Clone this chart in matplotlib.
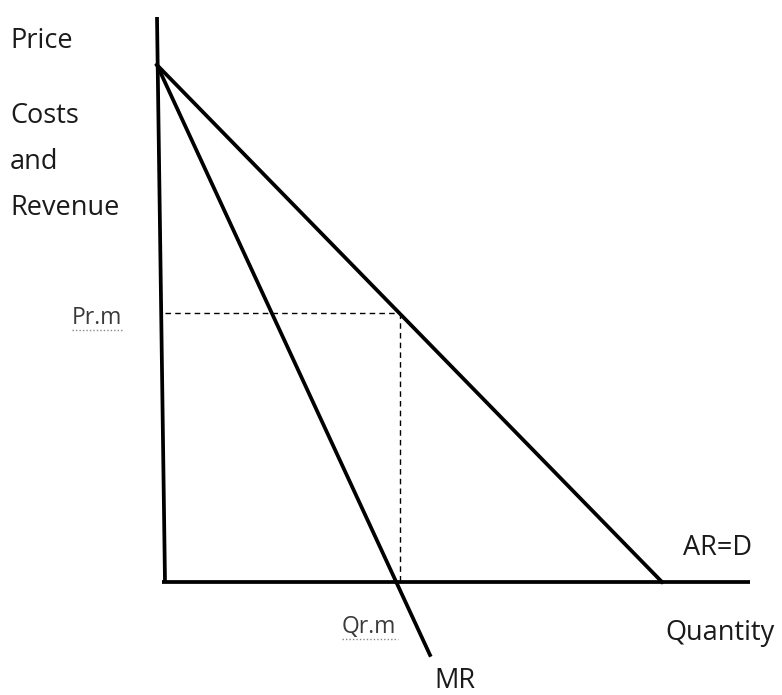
import matplotlib.pyplot as plt

# Diagram drawn in pixel-like units of the original picture (y grows downward)
y_axis_x = [157, 165]
y_axis_y = [17, 582]
x_axis_x = [162, 750]
x_axis_y = [582, 582]

# Demand (AR=D) and marginal revenue lines
ar_x = [157, 662]
ar_y = [65, 582]
mr_x = [157, 430]
mr_y = [65, 655]

# Profit-maximising point
q_rm = 400
p_rm = 313

fig = plt.figure(figsize=(7.82, 6.95), dpi=100)
ax = fig.add_axes([0, 0, 1, 1])
ax.set_xlim(0, 782)
ax.set_ylim(695, 0)
ax.axis('off')

lw = 2.7
ax.plot(y_axis_x, y_axis_y, c='black', lw=lw, solid_capstyle='butt')
ax.plot(x_axis_x, x_axis_y, c='black', lw=lw, solid_capstyle='butt')
ax.plot(ar_x, ar_y, c='black', lw=lw)
ax.plot(mr_x, mr_y, c='black', lw=lw)

# Dashed guide lines
ax.plot([165, q_rm], [p_rm, p_rm], c='black', lw=1, ls=(0, (4, 3)))
ax.plot([q_rm, q_rm], [p_rm, 582], c='black', lw=1, ls=(0, (4, 3)))

font = 'Open Sans'
big = 19.5
txt = '#1a1a1a'
for s, x, y in [('Price', 10, 48), ('Costs', 10, 123), ('and', 10, 169),
                ('Revenue', 10, 215), ('AR=D', 683, 555),
                ('Quantity', 665, 640), ('MR', 434, 688)]:
    ax.text(x, y, s, fontsize=big, family=font, va='baseline', color=txt)

# Small point labels with faint dotted underline
small = 16.5
ax.text(72, 324, 'Pr.m', fontsize=small, family=font, va='baseline', color='#3a3a3a')
ax.text(342, 633, 'Qr.m', fontsize=small, family=font, va='baseline', color='#3a3a3a')
ax.plot([72, 124], [330, 330], c='#888888', lw=1, ls=(0, (1, 1.5)))
ax.plot([342, 398], [639, 639], c='#888888', lw=1, ls=(0, (1, 1.5)))

plt.savefig('out.png', dpi=100)
